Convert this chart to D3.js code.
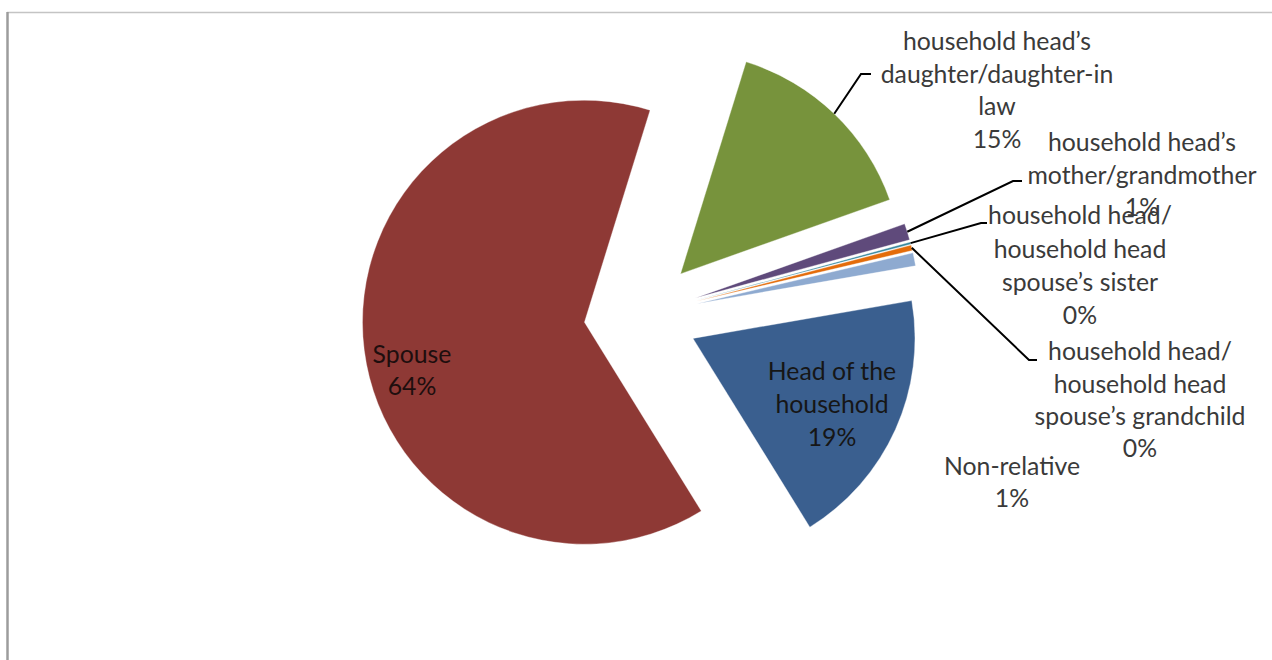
<!DOCTYPE html>
<html>
<head>
<meta charset="utf-8">
<script src="https://cdn.jsdelivr.net/npm/d3@7"></script>
<style>
  html, body { margin: 0; padding: 0; background: #fff; }
  svg { display: block; }
  text { font-family: Lato, "Open Sans", sans-serif; }
</style>
</head>
<body>
<svg id="chart" width="1272" height="660"></svg>
<script>
// Household relationship shares (percent of respondents)
const categories = [
  "Head of the household",
  "Spouse",
  "household head’s daughter/daughter-in law",
  "household head’s mother/grandmother",
  "household head/household head spouse’s sister",
  "household head/household head spouse’s grandchild",
  "Non-relative"
];
const values = [18.9, 63.6, 14.8, 1.2, 0.15, 0.4, 0.95];
const categoryLines = [
  ["Head of the", "household"],
  ["Spouse"],
  ["household head’s", "daughter/daughter-in", "law"],
  ["household head’s", "mother/grandmother"],
  ["household head/", "household head", "spouse’s sister"],
  ["household head/", "household head", "spouse’s grandchild"],
  ["Non-relative"]
];
const colors = ["#3a5f8f", "#8e3935", "#77933c", "#5f4a7b", "#31859c", "#e46c0a", "#8eaad0"];

// Layout
const W = 1272, H = 660;
const cx = 641, cy = 315, radius = 222, explode = 57;
const startDeg = 80.2;
const fontSize = 24.8;

// Label placement: centre x, centre of first line, line step, text colour, leader elbow
const labelLayout = [
  { x: 832,  y: 372, step: 33,   fill: "#161616", inside: true },
  { x: 412,  y: 355, step: 32,   fill: "#1e0e0e", inside: true },
  { x: 997,  y: 42,  step: 32.5, fill: "#3a3a3a", elbow: [861, 74], end: [871, 74] },
  { x: 1142, y: 143, step: 32.5, fill: "#3a3a3a", elbow: [1013, 181], end: [1022, 181] },
  { x: 1080, y: 216, step: 33.3, fill: "#3a3a3a", elbow: [981, 223], end: [987, 223] },
  { x: 1140, y: 352, step: 32.3, fill: "#3a3a3a", elbow: [1029, 360], end: [1037, 360] },
  { x: 1012, y: 467, step: 31.5, fill: "#3a3a3a" }
];

const svg = d3.select("#chart");

// Frame lines along the top and left edges
svg.append("line").attr("x1", 7).attr("x2", W).attr("y1", 12.5).attr("y2", 12.5)
  .attr("stroke", "#c4c4c4").attr("stroke-width", 1.5);
svg.append("line").attr("x1", 7.5).attr("x2", 7.5).attr("y1", 12).attr("y2", H)
  .attr("stroke", "#9c9c9c").attr("stroke-width", 2.5);

const a0 = startDeg * Math.PI / 180;
const pie = d3.pie().sort(null).value(d => d)
  .startAngle(a0).endAngle(a0 + 2 * Math.PI);
const arcs = pie(values);
const arc = d3.arc().innerRadius(0).outerRadius(radius);

const dir = a => [Math.sin(a), -Math.cos(a)];

const slices = svg.append("g").attr("class", "slices");
arcs.forEach((d, i) => {
  const mid = (d.startAngle + d.endAngle) / 2;
  const [ux, uy] = dir(mid);
  d.ox = cx + explode * ux;
  d.oy = cy + explode * uy;
  d.mid = mid;
  slices.append("path")
    .attr("transform", `translate(${d.ox},${d.oy})`)
    .attr("d", arc(d))
    .attr("fill", colors[i])
    .attr("stroke", "#ffffff")
    .attr("stroke-opacity", 0.6)
    .attr("stroke-width", 0.6);
});

// Leader lines from slice rims to outside labels
const leaders = svg.append("g").attr("class", "leaders");
arcs.forEach((d, i) => {
  const L = labelLayout[i];
  if (!L.elbow) return;
  const [ux, uy] = dir(d.mid);
  const sx = d.ox + radius * ux, sy = d.oy + radius * uy;
  leaders.append("polyline")
    .attr("points", [[sx, sy], L.elbow, L.end].map(p => p.join(",")).join(" "))
    .attr("fill", "none")
    .attr("stroke", "#000")
    .attr("stroke-width", 2);
});

// Category and percentage labels
const labels = svg.append("g").attr("class", "labels");
arcs.forEach((d, i) => {
  const L = labelLayout[i];
  const lines = categoryLines[i].concat([Math.round(values[i]) + "%"]);
  const t = labels.append("text")
    .attr("text-anchor", "middle")
    .attr("font-size", fontSize)
    .attr("fill", L.fill);
  lines.forEach((s, k) => {
    t.append("tspan")
      .attr("x", L.x)
      .attr("y", L.y + k * L.step + fontSize * 0.34)
      .text(s);
  });
});
</script>
</body>
</html>
